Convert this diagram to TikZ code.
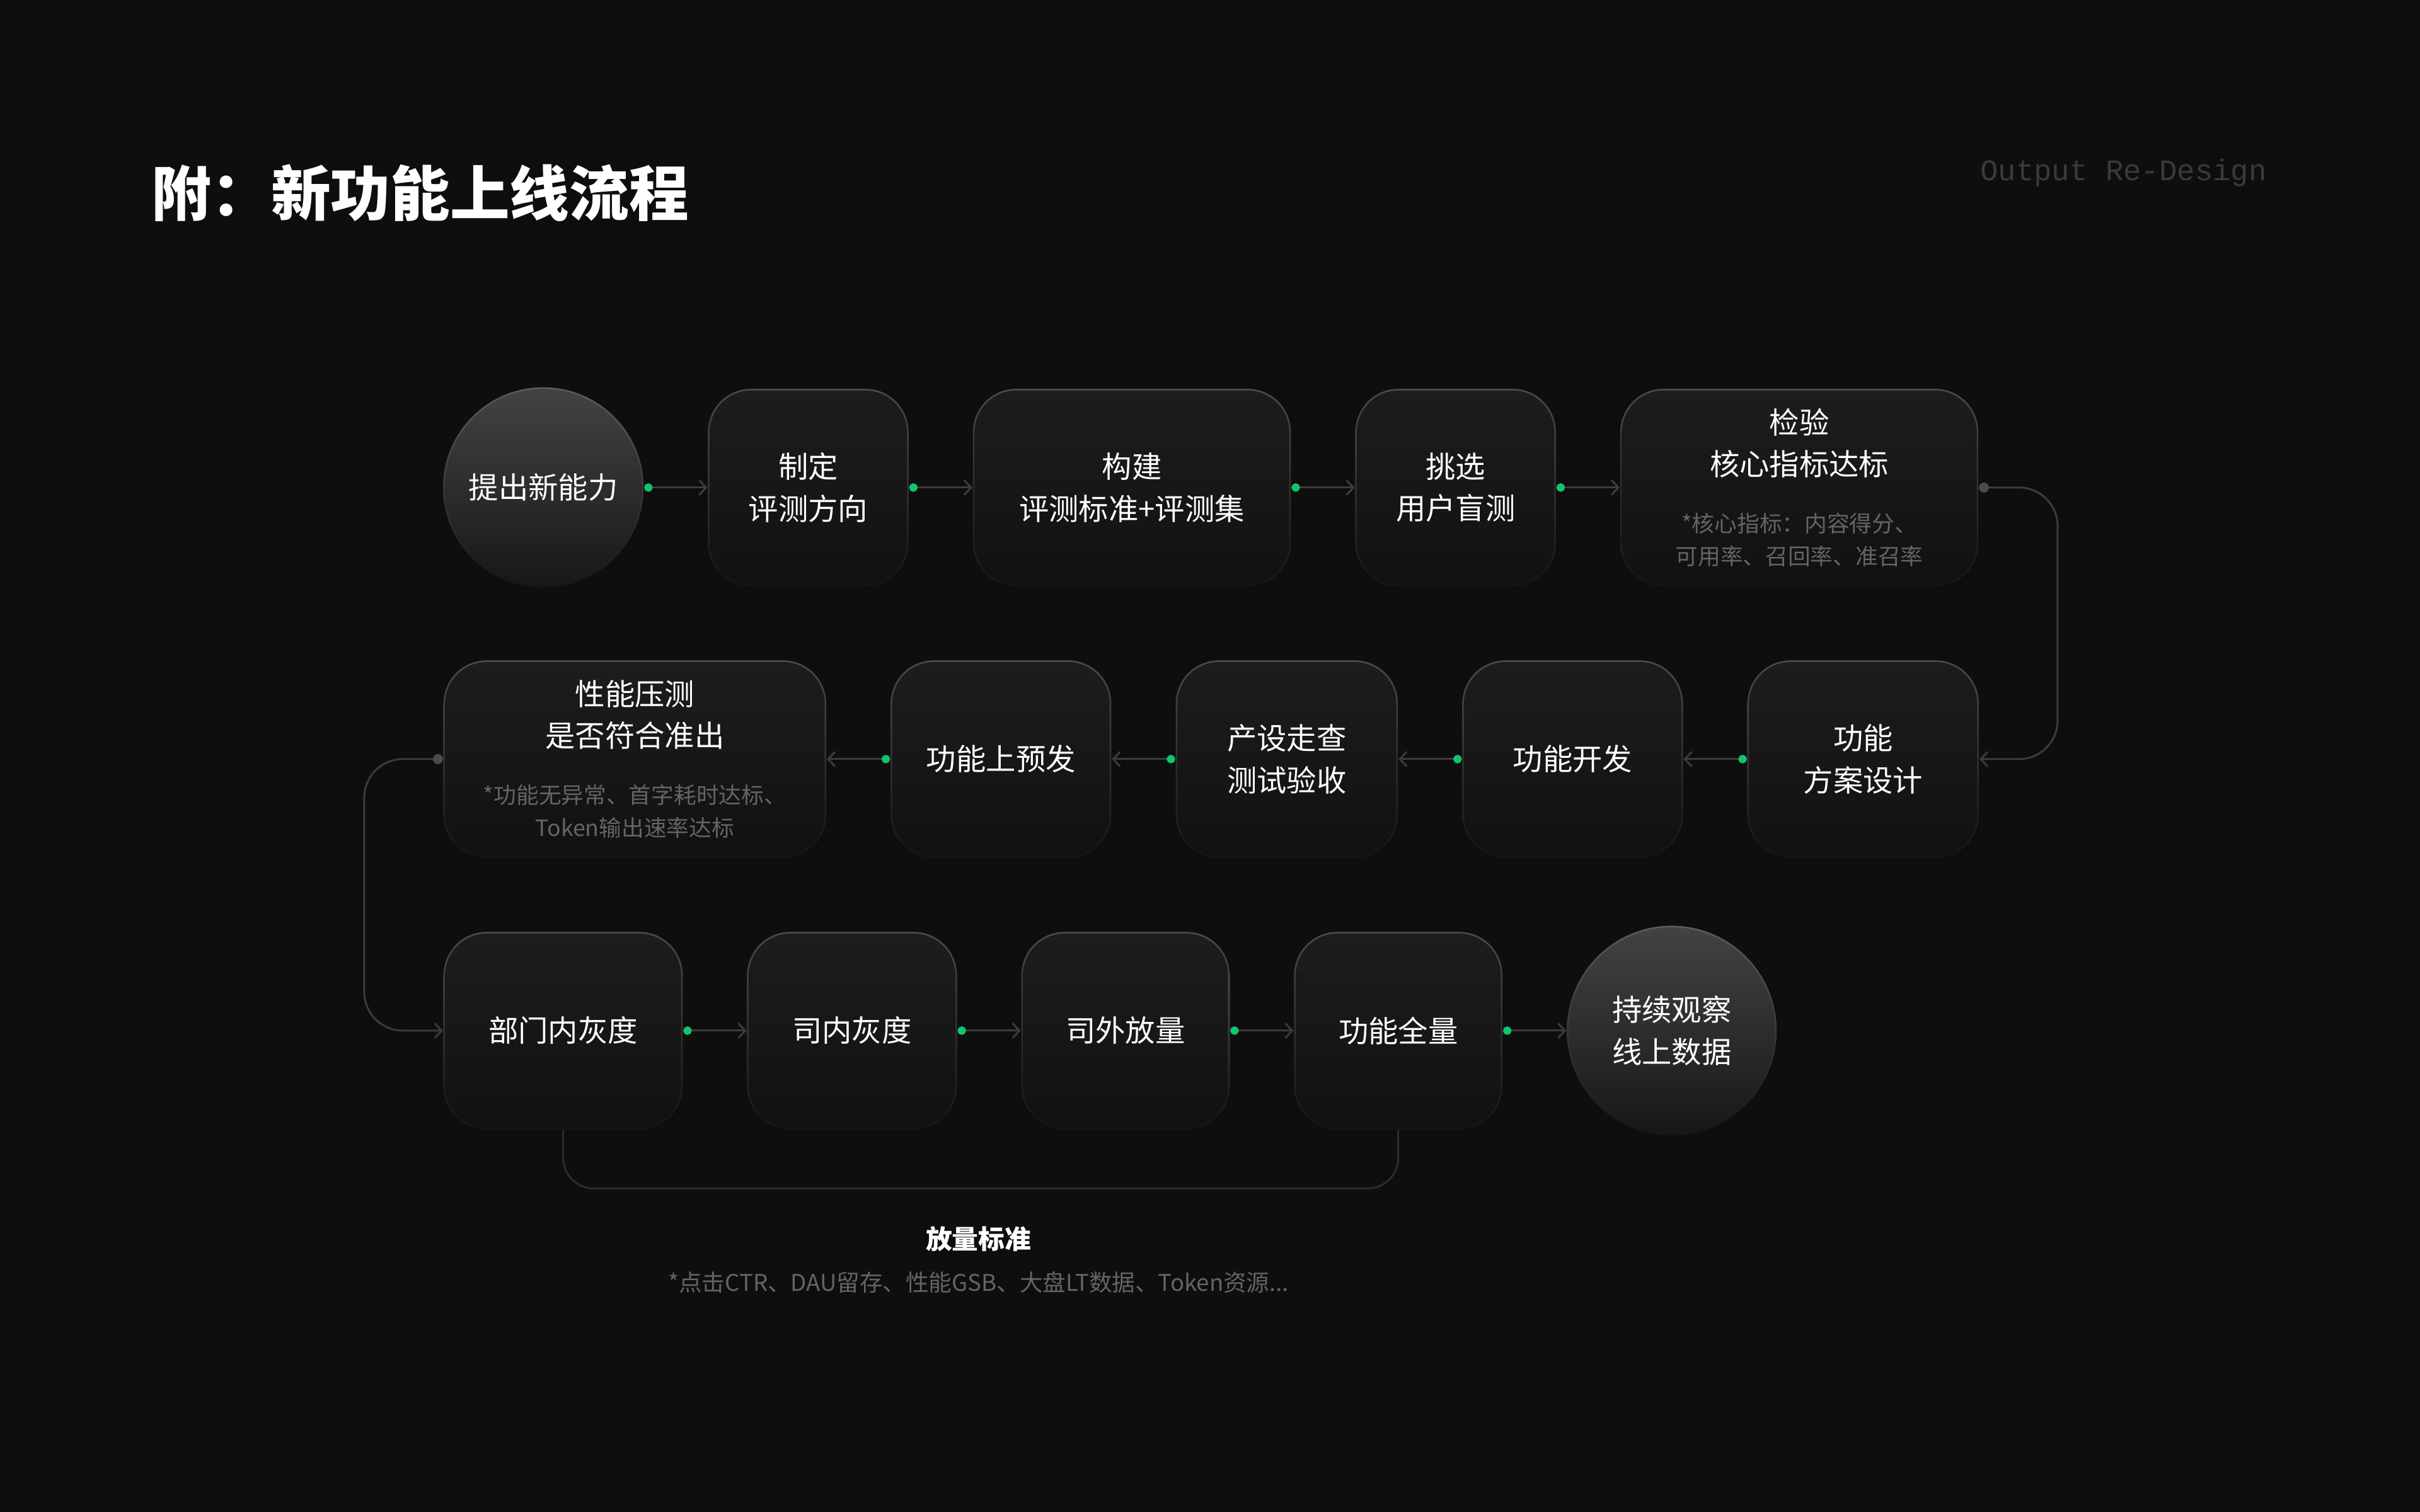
\documentclass[tikz,border=0pt]{standalone}
\usepackage{fontspec}
\usepackage{xcolor}
\usepackage{tikz}
\usetikzlibrary{positioning, arrows.meta, calc}
\newfontfamily\cjk{Noto Sans CJK SC}
\newfontfamily\mono{Liberation Mono}
\definecolor{bg}{HTML}{0E0E0E}
\definecolor{edgetop}{HTML}{4A4A4A}
\definecolor{edgebot}{HTML}{151515}
\definecolor{filltop}{HTML}{1D1D1D}
\definecolor{fillbot}{HTML}{111111}
\definecolor{hubedge}{HTML}{5C5C5C}
\definecolor{hubtop}{HTML}{434343}
\definecolor{hubbot}{HTML}{171717}
\definecolor{wire}{HTML}{3C3C3C}
\definecolor{go}{HTML}{12C46C}
\definecolor{knob}{HTML}{4A4A4A}
\definecolor{note}{HTML}{646464}
\definecolor{brandgray}{HTML}{3A3A3A}
\definecolor{rim}{HTML}{2C2C2C}
\newcommand{\Note}[1]{{\fontsize{8.3}{12}\selectfont\color{note}#1}}
\tikzset{
	stage/.style = {rounded corners = 5.6mm, minimum height = 25.6mm, inner sep = 0pt, align = center,
		text = white, font = \cjk\fontsize{11}{15.4}\selectfont,
		top color = edgetop, bottom color = edgebot,
		path picture = {\shade [top color = filltop, bottom color = fillbot, rounded corners = 5.4mm]
			([shift = {(0.22mm,0.22mm)}]path picture bounding box.south west) rectangle
			([shift = {(-0.22mm,-0.22mm)}]path picture bounding box.north east);}},
	hub/.style = {circle, minimum size = #1, inner sep = 0pt, align = center,
		text = white, font = \cjk\fontsize{11}{15.4}\selectfont,
		top color = hubedge, bottom color = edgebot,
		path picture = {\shade [top color = hubtop, bottom color = hubbot]
			(path picture bounding box.center) circle [radius = {#1/2-0.22mm}];}},
	flow/.style = {draw = wire, line width = 0.7pt,
		{Circle[color = go, length = 1.1mm, width = 1.1mm]}-{Straight Barb[length = 0.9mm, width = 1.9mm]}},
	turn/.style = {draw = wire, line width = 0.7pt, rounded corners = 5mm,
		{Circle[color = knob, length = 1.3mm, width = 1.3mm]}-{Straight Barb[length = 0.9mm, width = 1.9mm]}},
	brace/.style = {draw = rim, line width = 0.7pt, rounded corners = 4mm},
}

\begin{document}
\begin{tikzpicture}[x = 0.2mm, y = 0.2mm, node distance = 8.2mm]
	\def\dx{10.2mm};
	
	\fill [bg] (0,0) rectangle (1568,-980);
	\useasboundingbox (0,0) rectangle (1568,-980);
	
	\node [anchor = west, inner sep = 0pt, text = white, font = \cjk\bfseries\fontsize{22}{26}\selectfont] (title) at (98,-125) {附：新功能上线流程};
	\node [anchor = east, inner sep = 0pt, text = brandgray, font = \mono\fontsize{11}{13}\selectfont] (brand) at (1469,-112) {Output Re-Design};
	
	% row 1
	\node [hub = 26mm] (idea) at (352,-316) {提出新能力};
	\node [stage, minimum width = 26mm, right = of idea] (aim) {制定\\评测方向};
	\node [stage, minimum width = 41.2mm, right = of aim] (bench) {构建\\评测标准+评测集};
	\node [stage, minimum width = 26mm, right = of bench] (blind) {挑选\\用户盲测};
	\node [stage, minimum width = 46.4mm, right = of blind] (check) {检验\\核心指标达标\\[5.6pt]\Note{*核心指标：内容得分、}\\[-3.4pt]\Note{可用率、召回率、准召率}};
	
	% row 2
	\node [stage, minimum width = 49.6mm, anchor = west] (stress) at (287,-492) {性能压测\\是否符合准出\\[5.6pt]\Note{*功能无异常、首字耗时达标、}\\[-3.4pt]\Note{Token输出速率达标}};
	\node [stage, minimum width = 28.6mm, right = of stress] (preview) {功能上预发};
	\node [stage, minimum width = 28.8mm, right = of preview] (review) {产设走查\\测试验收};
	\node [stage, minimum width = 28.6mm, right = of review] (dev) {功能开发};
	\node [stage, minimum width = 30mm, right = of dev] (design) {功能\\方案设计};
	
	% row 3
	\node [stage, minimum width = 31mm, anchor = west] (dept) at (287,-668) {部门内灰度};
	\node [stage, minimum width = 27.2mm, right = of dept] (inner) {司内灰度};
	\node [stage, minimum width = 27mm, right = of inner] (outer) {司外放量};
	\node [stage, minimum width = 27mm, right = of outer] (full) {功能全量};
	\node [hub = 27.2mm, right = of full] (watch) {持续观察\\线上数据};
	
	\draw [flow] (idea.east) -- (aim.west);
	\draw [flow] (aim.east) -- (bench.west);
	\draw [flow] (bench.east) -- (blind.west);
	\draw [flow] (blind.east) -- (check.west);
	
	\draw [turn] (check.east) -- ++(\dx,0) |- (design.east);
	
	\draw [flow] (design.west) -- (dev.east);
	\draw [flow] (dev.west) -- (review.east);
	\draw [flow] (review.west) -- (preview.east);
	\draw [flow] (preview.west) -- (stress.east);
	
	\draw [turn] (stress.west) -- ++(-\dx,0) |- (dept.west);
	
	\draw [flow] (dept.east) -- (inner.west);
	\draw [flow] (inner.east) -- (outer.west);
	\draw [flow] (outer.east) -- (full.west);
	\draw [flow] (full.east) -- (watch.west);
	
	\draw [brace] (dept.south) -- ++(0,-7.6mm) -| (full.south);
	
	\node [text = white, font = \cjk\bfseries\fontsize{9.7}{12}\selectfont] (rule) at (634,-803) {放量标准};
	\node [text = note, font = \cjk\fontsize{8.5}{10}\selectfont] (rulenote) at (634,-831) {*点击CTR、DAU留存、性能GSB、大盘LT数据、Token资源...};
\end{tikzpicture}
\end{document}
